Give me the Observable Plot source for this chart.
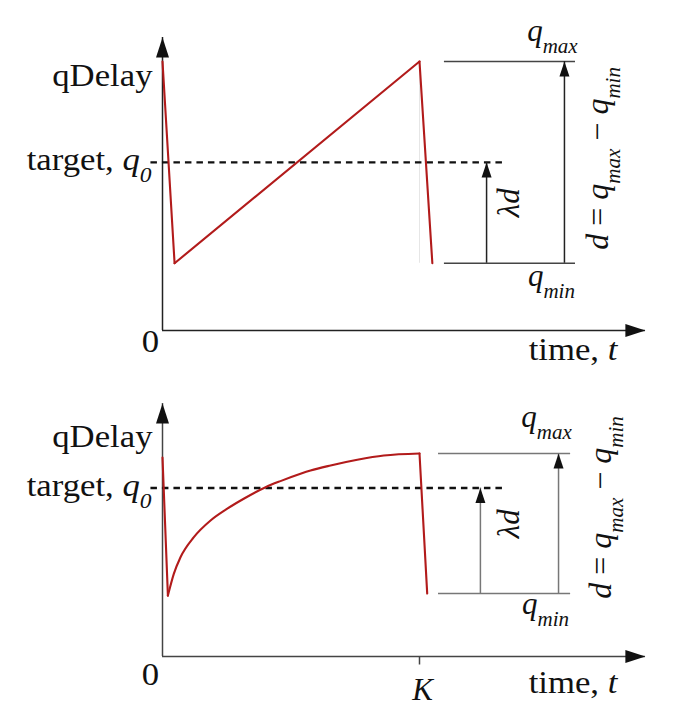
<!DOCTYPE html>
<html><head><meta charset="utf-8">
<script src="https://cdn.jsdelivr.net/npm/d3@7"></script>
<script src="https://cdn.jsdelivr.net/npm/@observablehq/plot@0.6"></script>
<style>
html,body{margin:0;padding:0;background:#fff;}
#chart{width:677px;height:717px;overflow:hidden;background:#fff}
#chart svg{display:block}
</style></head><body><div id="chart"></div>
<script>
// ---------------- data ----------------
// levels: [q_min, q_0 (target), q_max]
// Panel 1: linear rise of queuing delay
const rampTime  = [0, 0.047, 1.0, 1.05];
const rampDelay = [1.0, 0.25, 1.0, 0.25];
const rampLevels = [0.25, 0.625, 1.0];

// Panel 2: concave rise of queuing delay up to time K
const curveTime  = [0, 0.021, 0.044, 0.070, 0.122, 0.187, 0.252, 0.316, 0.401, 0.459, 0.537, 0.576, 0.654, 0.758, 0.861, 1.0, 1.03];
const curveDelay = [0.98, 0.30, 0.407, 0.489, 0.588, 0.670, 0.728, 0.777, 0.834, 0.864, 0.900, 0.916, 0.941, 0.969, 0.990, 1.0, 0.31];
const curveLevels = [0.31, 0.83, 1.0];

const tickTimes  = [1.0];
const tickLabels = ["$K$"];

const yAxisLabel  = "qDelay";
const targetLabel = "target, $q_0$";
const originLabel = "0";
const xAxisLabel  = "time, $t$";
const qmaxLabel   = "$q_{max}$";
const qminLabel   = "$q_{min}$";
const lambdaLabel = "$λd$";
const rangeLabel  = "$d$ = $q_{max}$ − $q_{min}$";

// ---------------- drawing ----------------
const serif = "Liberation Serif, DejaVu Serif, Noto Serif, serif";
const red = "#b21b1b";

function arrowHead(len, half) {
  return {draw(ctx) { ctx.moveTo(0, 0); ctx.lineTo(half, len); ctx.lineTo(-half, len); ctx.closePath(); }};
}
const axisHead = arrowHead(20, 6.5);
const smallHead = arrowHead(15, 5);
const tickSym = {draw(ctx) { ctx.moveTo(0, 0); ctx.lineTo(0, 8); }};

function enrich(svg) {
  const SUB_SIZE = 21, SUB_SHIFT = 12;
  svg.setAttribute("font-family", serif);
  for (const el of svg.querySelectorAll("text")) {
    el.setAttribute("font-family", serif);
    const s = el.textContent;
    const tf = el.getAttribute("transform") || "";
    if (!tf.includes("rotate") && !s.startsWith("$")) el.setAttribute("transform", tf + " scale(1.12,1)");
    if (!s.includes("$")) continue;
    el.textContent = "";
    let shifted = false;
    const add = (str, italic, sub) => {
      const ts = document.createElementNS("http://www.w3.org/2000/svg", "tspan");
      ts.textContent = str;
      ts.setAttribute("font-family", serif);
      if (italic) ts.setAttribute("font-style", "italic");
      if (sub) {
        ts.setAttribute("font-size", SUB_SIZE);
        if (!shifted) { ts.setAttribute("dy", SUB_SHIFT); shifted = true; }
      } else if (shifted) { ts.setAttribute("dy", -SUB_SHIFT); shifted = false; }
      el.appendChild(ts);
    };
    s.split("$").forEach((part, i) => {
      if (!part) return;
      if (i % 2 === 0) { add(part, false, false); return; }
      const re = /_\{([^}]*)\}|_(.)|([^_]+)/g; let m;
      while ((m = re.exec(part))) {
        if (m[3] !== undefined) add(m[3], true, false);
        else add(m[1] !== undefined ? m[1] : m[2], true, true);
      }
    });
  }
}

function panel(cfg) {
  const {time, delay, levels, off} = cfg;
  const [qmin, q0, qmax] = levels;
  const pts = time.map((t, i) => ({t, q: delay[i]}));
  const n = pts.length;
  const txt = (t, q, s, o, extra = {}) => Plot.text([{t, q, s}], {
    x: "t", y: "q", text: "s", fontFamily: serif, fontSize: 31, fill: "#111",
    dx: o[0], dy: o[1], ...extra
  });
  const marks = [
    Plot.ruleX([0], {y1: 0, y2: cfg.yAxisTop, stroke: cfg.axisInk, strokeWidth: 1.5}),
    Plot.ruleY([0], {x1: 0, x2: cfg.xAxisEnd, stroke: cfg.axisInk, strokeWidth: 1.5}),
    Plot.dot([{t: 0, q: cfg.yAxisTop}], {x: "t", y: "q", symbol: axisHead, r: 5, fill: "#111"}),
    Plot.dot([{t: cfg.xAxisEnd, q: 0}], {x: "t", y: "q", symbol: axisHead, r: 5, fill: "#111", rotate: 90}),
    Plot.dot(cfg.ticks, {x: d => d, y: 0, symbol: tickSym, r: 5, stroke: cfg.axisInk, strokeWidth: 1.5}),
  ];
  if (cfg.ghost) marks.push(Plot.ruleX([1], {y1: qmin, y2: qmax, stroke: "#e6e6e6", strokeWidth: 1}));
  marks.push(
    Plot.ruleY([q0], {x1: cfg.dashStart, x2: cfg.dashEnd, stroke: "#111", strokeWidth: 2.3, strokeDasharray: "6.5,5"}),
    Plot.ruleY([qmin, qmax], {x1: cfg.span[0], x2: cfg.span[1], stroke: cfg.levelInk, strokeWidth: 1.5}),
    Plot.ruleX([cfg.lambdaX], {y1: qmin, y2: q0, stroke: cfg.shaftInk, strokeWidth: 1.5}),
    Plot.ruleX([cfg.dX], {y1: qmin, y2: qmax, stroke: cfg.shaftInk, strokeWidth: 1.5}),
    Plot.dot([{t: cfg.lambdaX, q: q0}, {t: cfg.dX, q: qmax}], {x: "t", y: "q", symbol: smallHead, r: 5, fill: "#111"}),
    Plot.line(pts.slice(0, 2), {x: "t", y: "q", stroke: red, strokeWidth: 2.1}),
    Plot.line(pts.slice(1, n - 1), {x: "t", y: "q", stroke: red, strokeWidth: 2.1, curve: cfg.curve}),
    Plot.line(pts.slice(n - 2), {x: "t", y: "q", stroke: red, strokeWidth: 2.1}),
    txt(0, qmax, yAxisLabel, off.qDelay, {textAnchor: "end"}),
    txt(0, q0, targetLabel, off.target, {textAnchor: "end"}),
    txt(0, 0, originLabel, off.origin),
    txt(cfg.xAxisEnd, 0, xAxisLabel, off.time, {textAnchor: "end"}),
    txt(cfg.dX, qmax, qmaxLabel, off.qmax),
    txt(cfg.dX, qmin, qminLabel, off.qmin),
    txt(cfg.lambdaX, (qmin + q0) / 2, lambdaLabel, off.lambda, {rotate: -90}),
    txt(cfg.dX, (qmin + qmax) / 2, rangeLabel, off.d, {rotate: -90, fontSize: 32})
  );
  cfg.ticks.forEach((t, i) => marks.push(txt(t, 0, cfg.tickLabels[i], off.K)));
  const svg = Plot.plot({
    width: 677, height: cfg.height, margin: 0,
    x: {domain: [0, 1], range: [162, 419], axis: null},
    y: {domain: [0, 1], range: cfg.yRange, axis: null},
    style: {background: "#fff", overflow: "visible", fontFamily: serif},
    marks
  });
  enrich(svg);
  return svg;
}

const topPanel = panel({
  time: rampTime, delay: rampDelay, levels: rampLevels, curve: "linear",
  height: 372, yRange: [330, 61], yAxisTop: 1.089, xAxisEnd: 1.879,
  dashStart: -0.045, dashEnd: 1.342, span: [1.097, 1.607], lambdaX: 1.261, dX: 1.564,
  axisInk: "#222", levelInk: "#444", shaftInk: "#222", ghost: true,
  ticks: [], tickLabels: [],
  off: {qDelay: [-10, 15], target: [-11, -2], origin: [-12, 12], time: [-28, 20],
        qmax: [-12, -30], qmin: [-13, 13], lambda: [23, -10], d: [33, -4]}
});
const bottomPanel = panel({
  time: curveTime, delay: curveDelay, levels: curveLevels, curve: "monotone-x",
  height: 345, yRange: [284, 81], yAxisTop: 1.246, xAxisEnd: 1.879,
  dashStart: -0.045, dashEnd: 1.327, span: [1.074, 1.588], lambdaX: 1.237, dX: 1.541,
  axisInk: "#444", levelInk: "#777", shaftInk: "#777", ghost: false,
  ticks: tickTimes, tickLabels: tickLabels,
  off: {qDelay: [-10, -16], target: [-11, -2], origin: [-12, 19], time: [-28, 27],
        qmax: [-12, -36], qmin: [-13, 11], lambda: [29, -17], d: [42, -16], K: [3, 34]}
});
const host = document.getElementById("chart");
host.appendChild(topPanel);
host.appendChild(bottomPanel);
</script></body></html>
